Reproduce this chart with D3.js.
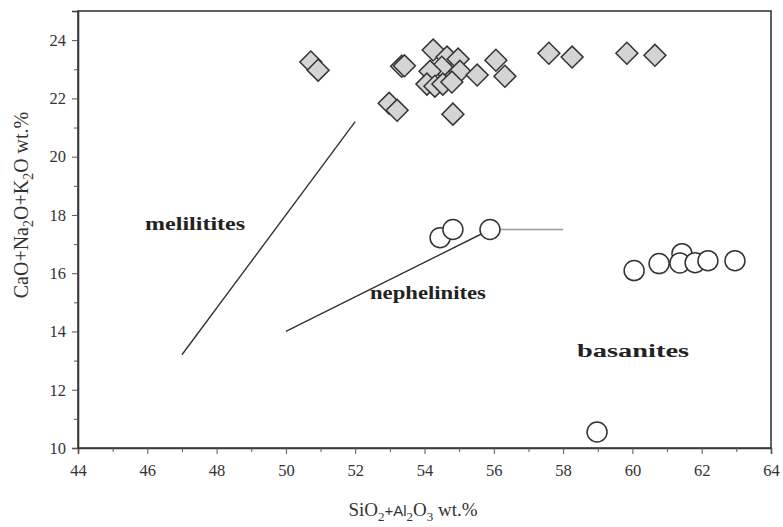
<!DOCTYPE html>
<html>
<head>
<meta charset="utf-8">
<script src="https://cdn.jsdelivr.net/npm/d3@7"></script>
<style>
  html, body { margin: 0; padding: 0; background: #fff; }
  svg { display: block; }
</style>
</head>
<body>
<svg id="chart" width="783" height="527"></svg>
<script>
// Axis ranges and ticks
const xDomain = [44, 64];
const yDomain = [10, 25];
const xTicks = [44, 46, 48, 50, 52, 54, 56, 58, 60, 62, 64];
const yTicks = [10, 12, 14, 16, 18, 20, 22, 24];

// Diamond samples: SiO2+Al2O3 and CaO+Na2O+K2O
const diamondX = [50.72, 50.93, 53.34, 53.42, 52.98, 53.21, 54.25, 54.65, 54.97, 54.50, 55.02, 55.52, 54.16, 54.07, 54.30, 54.53, 54.79, 54.82, 56.06, 56.32, 57.59, 58.26, 59.84, 60.65];
const diamondY = [23.25, 22.97, 23.10, 23.12, 21.83, 21.59, 23.66, 23.42, 23.35, 23.07, 22.93, 22.80, 22.93, 22.49, 22.42, 22.49, 22.56, 21.46, 23.31, 22.76, 23.55, 23.42, 23.55, 23.48];

// Circle samples
const circleX = [54.45, 54.82, 55.89, 60.05, 60.77, 61.43, 61.37, 61.81, 62.18, 62.96, 58.98];
const circleY = [17.22, 17.50, 17.50, 16.09, 16.33, 16.67, 16.35, 16.36, 16.43, 16.43, 10.55];

// Field boundaries
const melilititeLine = [[47, 13.2], [52, 21.2]];
const nephelinitLine = [[50, 14.0], [55.9, 17.5]];
const upperLine = [[55.9, 17.5], [58, 17.5]];

// Field names
const fieldNames = ["melilitites", "nephelinites", "basanites"];
const fieldX = [47.38, 54.1, 60.02];
const fieldY = [17.5, 15.13, 13.13];

const svg = d3.select("#chart");
const m = { left: 78, right: 771, top: 11, bottom: 448 };

const x = d3.scaleLinear().domain(xDomain).range([m.left, m.right]);
const y = d3.scaleLinear().domain(yDomain).range([m.bottom, m.top]);

const serif = "'Liberation Serif', 'Times New Roman', serif";
const axisColor = "#3a3a3a";

// Frame
svg.append("rect")
  .attr("x", m.left).attr("y", m.top)
  .attr("width", m.right - m.left).attr("height", m.bottom - m.top)
  .attr("fill", "none").attr("stroke", axisColor).attr("stroke-width", 1.6);

// Minor ticks
const xMinor = d3.range(45, 64, 2);
const yMinor = d3.range(11, 25, 2);

const gx = svg.append("g").attr("transform", `translate(0,${m.bottom})`)
  .call(d3.axisBottom(x).tickValues(xTicks).tickSize(6).tickPadding(5).tickFormat(d3.format("d")));
svg.append("g").attr("transform", `translate(0,${m.bottom})`)
  .call(d3.axisBottom(x).tickValues(xMinor).tickSize(4).tickFormat(""))
  .call(g => g.select(".domain").remove());

const gy = svg.append("g").attr("transform", `translate(${m.left},0)`)
  .call(d3.axisLeft(y).tickValues(yTicks).tickSize(6).tickPadding(6).tickFormat(d3.format("d")));
svg.append("g").attr("transform", `translate(${m.left},0)`)
  .call(d3.axisLeft(y).tickValues(yMinor).tickSize(4).tickFormat(""))
  .call(g => g.select(".domain").remove());

svg.selectAll(".domain").attr("stroke", axisColor).attr("stroke-width", 1.6);
svg.selectAll(".tick line").attr("stroke", "#555").attr("stroke-width", 1);
svg.selectAll(".tick text")
  .attr("font-family", serif).attr("font-size", 16.5).attr("fill", "#333");
gx.selectAll(".tick text").attr("dy", "1.0em");

// Boundary lines
const line = d3.line().x(d => x(d[0])).y(d => y(d[1]));
svg.append("path").datum(melilititeLine).attr("d", line)
  .attr("fill", "none").attr("stroke", "#333").attr("stroke-width", 1.4);
svg.append("path").datum(nephelinitLine).attr("d", line)
  .attr("fill", "none").attr("stroke", "#333").attr("stroke-width", 1.4);
svg.append("path").datum(upperLine).attr("d", line)
  .attr("fill", "none").attr("stroke", "#999").attr("stroke-width", 1.6);

// Field names (set in a wide bold face)
const fieldWidth = [100, 116, 112];
svg.selectAll("text.field").data(fieldNames).join("text")
  .attr("class", "field")
  .attr("x", (d, i) => x(fieldX[i]))
  .attr("y", (d, i) => y(fieldY[i]))
  .attr("text-anchor", "middle")
  .attr("font-family", serif).attr("font-weight", "bold").attr("font-size", 18)
  .attr("textLength", (d, i) => fieldWidth[i])
  .attr("lengthAdjust", "spacingAndGlyphs")
  .attr("fill", "#222")
  .text(d => d);

// Diamonds
const dsym = d3.symbol().type(d3.symbolSquare).size(240);
svg.selectAll("path.diamond").data(diamondX).join("path")
  .attr("class", "diamond")
  .attr("d", dsym)
  .attr("transform", (d, i) => `translate(${x(d)},${y(diamondY[i])}) rotate(45)`)
  .attr("fill", "#d4d4d4").attr("stroke", "#333").attr("stroke-width", 1.5);

// Circles
svg.selectAll("circle.sample").data(circleX).join("circle")
  .attr("class", "sample")
  .attr("cx", d => x(d))
  .attr("cy", (d, i) => y(circleY[i]))
  .attr("r", 10)
  .attr("fill", "#fff").attr("stroke", "#333").attr("stroke-width", 1.5);

// Axis titles
const xt = svg.append("text")
  .attr("x", 413).attr("y", 516)
  .attr("text-anchor", "middle")
  .attr("font-family", serif).attr("font-size", 19).attr("fill", "#333");
xt.append("tspan").text("SiO");
xt.append("tspan").attr("font-size", 13).attr("dy", 5).text("2");
xt.append("tspan").attr("dy", -5).attr("font-family", "'Liberation Sans', Arial, sans-serif").attr("font-size", 15).text("+Al");
xt.append("tspan").attr("font-size", 13).attr("dy", 5).text("2");
xt.append("tspan").attr("dy", -5).text("O");
xt.append("tspan").attr("font-size", 13).attr("dy", 5).text("3");
xt.append("tspan").attr("dy", -5).text(" wt.%");

const yt = svg.append("text")
  .attr("transform", `translate(28,205) rotate(-90)`)
  .attr("text-anchor", "middle")
  .attr("font-family", serif).attr("font-size", 20).attr("fill", "#333");
yt.append("tspan").text("CaO+Na");
yt.append("tspan").attr("font-size", 14).attr("dy", 5).text("2");
yt.append("tspan").attr("dy", -5).text("O+K");
yt.append("tspan").attr("font-size", 14).attr("dy", 5).text("2");
yt.append("tspan").attr("dy", -5).text("O wt.%");
</script>
</body>
</html>
